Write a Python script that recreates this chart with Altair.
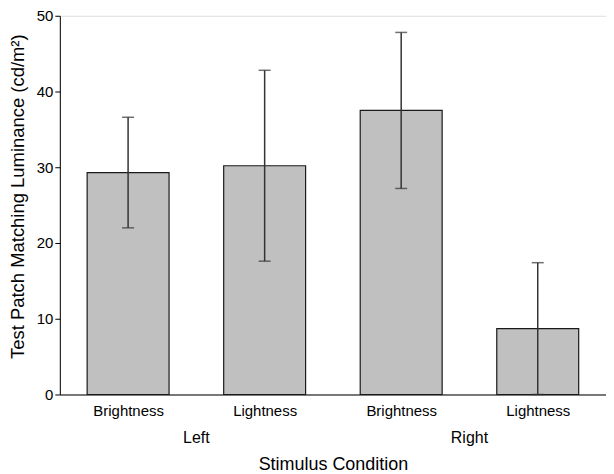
import altair as alt
import pandas as pd

# Data
conditions = ["Brightness", "Lightness", "Brightness", "Lightness"]
sides = ["Left", "Left", "Right", "Right"]
positions = [1, 2, 3, 4]
means = [29.3, 30.2, 37.5, 8.7]
errors = [7.3, 12.6, 10.3, 8.7]

group_names = ["Left", "Right"]
group_positions = [1.5, 3.5]

bar_half = 0.3

df = pd.DataFrame({
    "pos": positions,
    "condition": conditions,
    "side": sides,
    "mean": means,
    "err": errors,
})
df["lo"] = df["pos"] - bar_half
df["hi"] = df["pos"] + bar_half
df["zero"] = 0.0
df["elo"] = (df["mean"] - df["err"]).clip(lower=0)
df["ehi"] = df["mean"] + df["err"]

groups = pd.DataFrame({"pos": group_positions, "name": group_names})

label_expr = "{" + ",".join(f"'{p}':'{c}'" for p, c in zip(positions, conditions)) + "}[datum.value]"

xscale = alt.Scale(domain=[0.5, 4.5], nice=False, zero=False)
yscale = alt.Scale(domain=[0, 50], nice=False)

base = alt.Chart(df)

bars = base.mark_rect(fill="#c0c0c0", stroke="#1a1a1a", strokeWidth=1.2).encode(
    x=alt.X("lo:Q", scale=xscale, axis=alt.Axis(
        values=positions, labelExpr=label_expr, ticks=False, grid=False,
        labelFontSize=15, labelPadding=9, title="Stimulus Condition",
        titleFontSize=18, titleFontWeight="normal", titlePadding=37,
        domainColor="black", labelColor="black", titleColor="black")),
    x2="hi:Q",
    y=alt.Y("zero:Q", scale=yscale, axis=alt.Axis(
        values=[0, 10, 20, 30, 40, 50], tickSize=5, grid=False,
        labelFontSize=15, labelPadding=2, title="Test Patch Matching Luminance (cd/m²)",
        titleFontSize=18.5, titleFontWeight="normal", titlePadding=9, titleY=181,
        domainColor="black", tickColor="black", labelColor="black", titleColor="black")),
    y2="mean:Q",
)

err_line = base.mark_rule(color="#333333", strokeWidth=1.5).encode(
    x="pos:Q", y="elo:Q", y2="ehi:Q"
)
cap_top = base.mark_tick(color="#333333", orient="horizontal", size=12, thickness=1.5).encode(
    x="pos:Q", y="ehi:Q"
)
cap_bot = base.mark_tick(color="#333333", orient="horizontal", size=12, thickness=1.5).encode(
    x="pos:Q", y="elo:Q"
)

group_text = alt.Chart(groups).mark_text(fontSize=16, baseline="middle", color="black").encode(
    x=alt.X("pos:Q", scale=xscale),
    y=alt.value(424),
    text="name:N",
)

chart = alt.layer(bars, err_line, cap_top, cap_bot, group_text).properties(
    width=548, height=380,
    autosize=alt.AutoSizeParams(type="none"),
    padding={"left": 52, "top": 7, "right": 0, "bottom": 79},
).configure_view(stroke="black", strokeWidth=1).configure(
    font="Liberation Sans"
)

chart.save("out.html", embed_options={"renderer": "svg", "actions": False})
